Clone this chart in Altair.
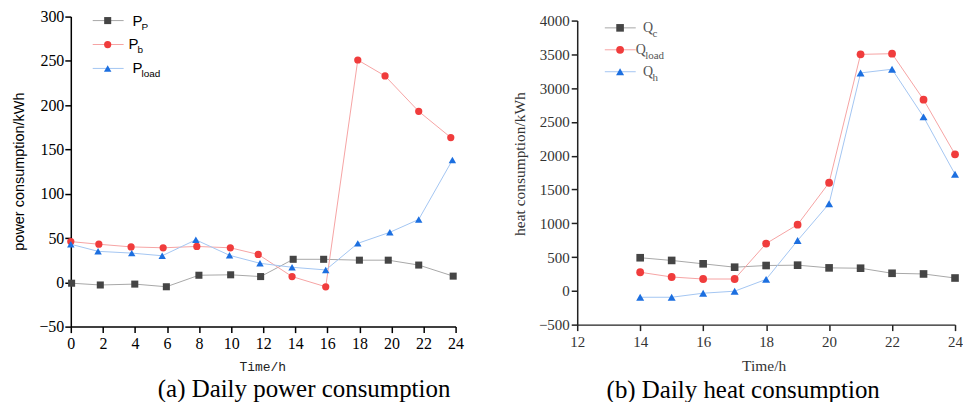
import altair as alt
import pandas as pd

# ---------------- data: (a) daily power consumption ----------------
p_series = ["Pp", "Pb", "Pload"]
p_time_pp = [0.05, 1.84, 3.99, 5.96, 7.99, 9.97, 11.84, 13.87, 15.77, 18.0, 19.8, 21.7, 23.85]
p_time_pb = [0, 1.75, 3.76, 5.76, 7.86, 9.95, 11.69, 13.8, 15.9, 17.9, 19.6, 21.7, 23.7]
p_time_pl = [0, 1.7, 3.8, 5.7, 7.8, 9.9, 11.8, 13.8, 15.9, 17.9, 19.9, 21.7, 23.8]
pp_vals = [-1, -3, -2, -5, 8, 8.5, 6.5, 26, 26, 25, 25, 19.5, 7]
pb_vals = [46, 43, 40, 39, 40.5, 39, 31.5, 6.5, -5, 251, 233, 193, 163.5]
pl_vals = [43, 35, 33, 30, 48, 30.5, 21.5, 17, 14, 44, 56.5, 71, 138]
p_x_ticks = list(range(0, 25, 2))
p_y_ticks = list(range(-50, 301, 50))
p_leg_main = ["P", "P", "P"]
p_leg_sub = ["P", "b", "load"]

# ---------------- data: (b) daily heat consumption ----------------
q_series = ["Qc", "Qload", "Qh"]
q_time = [14, 15, 16, 17, 18, 19, 20, 21, 22, 23, 24]
qc_vals = [490, 450, 400, 350, 375, 380, 340, 335, 260, 250, 190]
qload_vals = [275, 205, 175, 175, 700, 980, 1600, 3500, 3510, 2830, 2020]
qh_vals = [-95, -95, -35, -5, 170, 745, 1290, 3225, 3280, 2575, 1725]
q_x_ticks = list(range(12, 25, 2))
q_y_ticks = list(range(-500, 4001, 500))
q_leg_main = ["Q", "Q", "Q"]
q_leg_sub = ["c", "load", "h"]

shapes = ["square", "circle", "triangle-up"]
marker_sizes = [50, 64, 78]
p_line_colors = ["#a8a8a8", "#f6a4a4", "#a4c6f2"]
p_mark_colors = ["#454545", "#f03c3c", "#1c6fe0"]
q_line_colors = ["#a0a0a0", "#f2a6a6", "#a9cdea"]
q_mark_colors = ["#454545", "#ee3636", "#1c6fe0"]


def long_df(series, times, values):
    rows = []
    for s, ts, vs in zip(series, times, values):
        for t, v in zip(ts, vs):
            rows.append({"series": s, "t": t, "v": v})
    return pd.DataFrame(rows)


p_df = long_df(p_series, [p_time_pp, p_time_pb, p_time_pl], [pp_vals, pb_vals, pl_vals])
q_df = long_df(q_series, [q_time] * 3, [qc_vals, qload_vals, qh_vals])

p_leg = pd.DataFrame({"series": p_series, "main": p_leg_main, "sub": p_leg_sub, "row": [0, 1, 2]})
q_leg = pd.DataFrame({"series": q_series, "main": q_leg_main, "sub": q_leg_sub, "row": [0, 1, 2]})


def panel(df, leg, series, line_colors, mark_colors, xdom, ydom, xticks, yticks,
          xaxis_kw, yaxis_kw, yrange, leg_geo, text_font, text_color, main_size, sub_font,
          sub_size, caption, cap_dx, w, h):
    color_sc = alt.Scale(domain=series, range=line_colors)
    fill_sc = alt.Scale(domain=series, range=mark_colors)
    shape_sc = alt.Scale(domain=series, range=shapes)
    size_sc = alt.Scale(domain=series, range=marker_sizes)
    yscale = alt.Scale(domain=ydom, nice=False, zero=False)
    if yrange is not None:
        yscale = alt.Scale(domain=ydom, nice=False, zero=False, range=yrange)
    x = alt.X("t:Q", scale=alt.Scale(domain=xdom, nice=False, zero=False),
              axis=alt.Axis(values=xticks, grid=False, labelFlush=False, labelOverlap=False,
                            tickSize=6, format="d", **xaxis_kw))
    y = alt.Y("v:Q", scale=yscale,
              axis=alt.Axis(values=yticks, grid=False, labelOverlap=False, labelFlush=False,
                            tickSize=6, format="d", **yaxis_kw))
    base = alt.Chart(df)
    lines = base.mark_line(strokeWidth=1).encode(
        x=x, y=y, color=alt.Color("series:N", scale=color_sc, legend=None),
        detail="series:N")
    points = base.mark_point(filled=True, opacity=1, strokeWidth=0).encode(
        x=x, y=y,
        fill=alt.Fill("series:N", scale=fill_sc, legend=None),
        shape=alt.Shape("series:N", scale=shape_sc, legend=None),
        size=alt.Size("series:N", scale=size_sc, legend=None))

    y0, dy, x1, x2, xm, xt0, xt, subdx, subdy = leg_geo
    lbase = alt.Chart(leg).transform_calculate(
        ly=f"{y0} + datum.row * {dy}",
        lx1=f"{x1}", lx2=f"{x2}", lxm=f"{xm}",
        lxt=f"datum.row == 1 ? {xt} : {xt0}",
    ).transform_calculate(lxs=f"datum.lxt + {subdx}", lys=f"datum.ly + {subdy}")
    leg_rule = lbase.mark_rule(strokeWidth=1).encode(
        x=alt.X("lx1:Q", scale=None), x2="lx2:Q", y=alt.Y("ly:Q", scale=None),
        color=alt.Color("series:N", scale=color_sc, legend=None))
    leg_pt = lbase.mark_point(filled=True, opacity=1, strokeWidth=0).encode(
        x=alt.X("lxm:Q", scale=None), y=alt.Y("ly:Q", scale=None),
        fill=alt.Fill("series:N", scale=fill_sc, legend=None),
        shape=alt.Shape("series:N", scale=shape_sc, legend=None),
        size=alt.Size("series:N", scale=size_sc, legend=None))
    leg_main = lbase.mark_text(align="left", baseline="middle", font=text_font,
                               fontSize=main_size, color=text_color).encode(
        x=alt.X("lxt:Q", scale=None), y=alt.Y("ly:Q", scale=None), text="main:N")
    leg_sub = lbase.mark_text(align="left", baseline="middle", font=sub_font,
                              fontSize=sub_size, color=text_color).encode(
        x=alt.X("lxs:Q", scale=None), y=alt.Y("lys:Q", scale=None), text="sub:N")

    return alt.layer(lines, points, leg_rule, leg_pt, leg_main, leg_sub).properties(
        width=w, height=h,
        title=alt.TitleParams(caption, orient="bottom", anchor="middle", dx=cap_dx, offset=4,
                              font="Liberation Serif", fontSize=25, fontWeight="normal",
                              color="black"))


left = panel(
    p_df, p_leg, p_series, p_line_colors, p_mark_colors, [0, 24], [-50, 300], p_x_ticks, p_y_ticks,
    dict(title="Time/h", titleFont="Liberation Mono", titleFontSize=13, titleFontWeight="normal",
         titleColor="#222222", titleX=192, titleY=34, titleBaseline="top",
         labelFont="Liberation Serif", labelFontSize=16, labelColor="black", labelPadding=3,
         domainColor="black", tickColor="black", domainWidth=1.5, tickWidth=1.5),
    dict(title="power consumption/kWh", titleFont="Liberation Sans", titleFontSize=14.5,
         titleFontWeight="normal", titleColor="black", titleX=-44.5, titleY=155,
         labelFont="Liberation Serif", labelFontSize=16, labelColor="black", labelPadding=1,
         domainColor="black", tickColor="black", domainWidth=1.5, tickWidth=1.5),
    None,
    (4, 24, 22, 53, 37, 62, 58, 9, 6),
    "Liberation Sans", "black", 15, "Liberation Sans", 10,
    "(a) Daily power consumption", 41, 386, 311)

right = panel(
    q_df, q_leg, q_series, q_line_colors, q_mark_colors, [12, 24], [-500, 4000], q_x_ticks, q_y_ticks,
    dict(title="Time/h", titleFont="Liberation Serif", titleFontSize=15.5, titleFontWeight="normal",
         titleColor="#333333", titleX=187, titleY=34, titleBaseline="top",
         labelFont="Liberation Serif", labelFontSize=15, labelColor="#333333", labelPadding=4,
         domainColor="#222222", tickColor="#222222", domainWidth=1.5, tickWidth=1.5),
    dict(title="heat consumption/kWh", titleFont="Liberation Serif", titleFontSize=15.5,
         titleFontWeight="normal", titleColor="#333333", titleX=-50, titleY=147.5,
         labelFont="Liberation Serif", labelFontSize=15, labelColor="#333333", labelPadding=2,
         domainColor="#222222", tickColor="#222222", domainWidth=1.5, tickWidth=1.5),
    [309, 4],
    (11.3, 22, 27.7, 58.7, 43, 66, 58.7, 9.5, 6),
    "Liberation Serif", "#555555", 14, "Liberation Serif", 11,
    "(b) Daily heat consumption", -23, 379, 309)

chart = alt.hconcat(left, right, spacing=122, bounds="flush").properties(
    padding={"left": 3, "top": 0, "right": 0, "bottom": 0}
).configure_view(stroke=None)

chart.save("out.html", embed_options={"renderer": "svg", "actions": False})
